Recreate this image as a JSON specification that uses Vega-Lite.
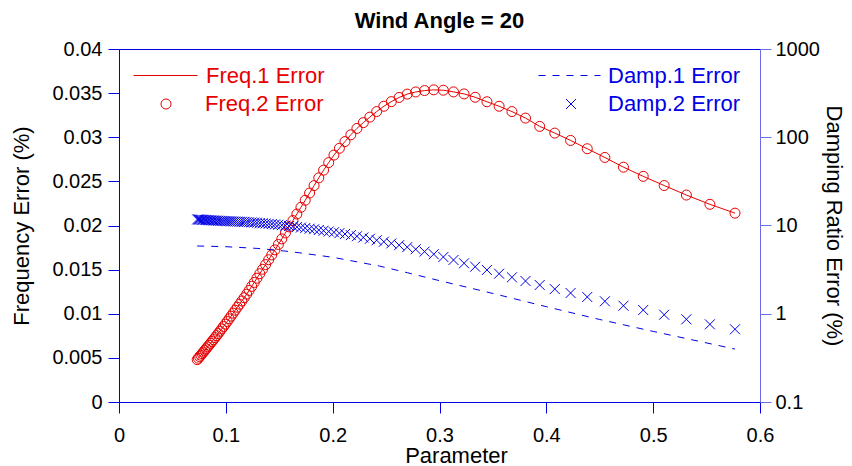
{
  "$schema": "https://vega.github.io/schema/vega-lite/v6.json",
  "autosize": {"type": "none"},
  "width": 641,
  "height": 353,
  "padding": {"left": 119, "top": 49, "right": 92, "bottom": 64},
  "background": "white",
  "config": {
    "font": "Liberation Sans",
    "view": {"stroke": "#0000e6", "strokeWidth": 1},
    "axis": {"domainColor": "#0000e6", "tickColor": "#0000e6", "labelColor": "black", "titleColor": "black", "grid": false, "labelFont": "Liberation Sans", "titleFont": "Liberation Sans", "labelFontSize": 20, "titleFontSize": 22, "titleFontWeight": "normal", "tickSize": 11, "domainWidth": 1, "tickWidth": 1, "labelFlush": false},
    "legend": {"padding": 0, "labelFont": "Liberation Sans", "labelFontSize": 22, "title": null}
  },
  "title": {"text": "Wind Angle = 20", "fontSize": 22, "fontWeight": "bold", "font": "Liberation Sans", "color": "black", "offset": 6},
  "datasets": {
    "main": [
      {"u":0.5766,"freq":0.0214,"damp2":0.667},
      {"u":0.5531,"freq":0.0224,"damp2":0.759},
      {"u":0.5311,"freq":0.02345,"damp2":0.865},
      {"u":0.5103,"freq":0.02453,"damp2":0.975},
      {"u":0.4907,"freq":0.02557,"damp2":1.102},
      {"u":0.4722,"freq":0.02661,"damp2":1.233},
      {"u":0.4548,"freq":0.02771,"damp2":1.384},
      {"u":0.4383,"freq":0.0287,"damp2":1.549},
      {"u":0.4227,"freq":0.02964,"damp2":1.718},
      {"u":0.4079,"freq":0.03047,"damp2":1.905},
      {"u":0.3938,"freq":0.03123,"damp2":2.118},
      {"u":0.3805,"freq":0.03217,"damp2":2.35},
      {"u":0.3678,"freq":0.03291,"damp2":2.588},
      {"u":0.3558,"freq":0.03351,"damp2":2.844},
      {"u":0.3444,"freq":0.03402,"damp2":3.133},
      {"u":0.3334,"freq":0.03453,"damp2":3.412},
      {"u":0.323,"freq":0.03491,"damp2":3.733},
      {"u":0.3131,"freq":0.03514,"damp2":4.064},
      {"u":0.3036,"freq":0.03533,"damp2":4.396},
      {"u":0.2946,"freq":0.03537,"damp2":4.732},
      {"u":0.286,"freq":0.03529,"damp2":5.058},
      {"u":0.2777,"freq":0.03513,"damp2":5.383},
      {"u":0.2698,"freq":0.03489,"damp2":5.689},
      {"u":0.2622,"freq":0.03451,"damp2":5.984},
      {"u":0.2549,"freq":0.03404,"damp2":6.266},
      {"u":0.2479,"freq":0.03351,"damp2":6.546},
      {"u":0.2412,"freq":0.03291,"damp2":6.808},
      {"u":0.2348,"freq":0.03228,"damp2":7.063},
      {"u":0.2287,"freq":0.03166,"damp2":7.312},
      {"u":0.2227,"freq":0.031,"damp2":7.551},
      {"u":0.217,"freq":0.03028,"damp2":7.781},
      {"u":0.2115,"freq":0.02951,"damp2":7.998},
      {"u":0.2063,"freq":0.02875,"damp2":8.185},
      {"u":0.2012,"freq":0.02798,"damp2":8.375},
      {"u":0.1963,"freq":0.02713,"damp2":8.551},
      {"u":0.1915,"freq":0.02627,"damp2":8.73},
      {"u":0.187,"freq":0.0254,"damp2":8.892},
      {"u":0.1826,"freq":0.02452,"damp2":9.057},
      {"u":0.1784,"freq":0.02368,"damp2":9.205},
      {"u":0.1743,"freq":0.02286,"damp2":9.354},
      {"u":0.1703,"freq":0.02206,"damp2":9.484},
      {"u":0.1665,"freq":0.0213,"damp2":9.616},
      {"u":0.1628,"freq":0.02056,"damp2":9.75},
      {"u":0.1592,"freq":0.01984,"damp2":9.863},
      {"u":0.1558,"freq":0.01916,"damp2":9.977},
      {"u":0.1524,"freq":0.01848,"damp2":10.09},
      {"u":0.1492,"freq":0.01785,"damp2":10.19},
      {"u":0.146,"freq":0.01724,"damp2":10.28},
      {"u":0.143,"freq":0.01667,"damp2":10.38},
      {"u":0.1401,"freq":0.01612,"damp2":10.45},
      {"u":0.1372,"freq":0.01557,"damp2":10.52},
      {"u":0.1344,"freq":0.01504,"damp2":10.59},
      {"u":0.1318,"freq":0.01454,"damp2":10.67},
      {"u":0.1291,"freq":0.01403,"damp2":10.74},
      {"u":0.1266,"freq":0.01355,"damp2":10.79},
      {"u":0.1242,"freq":0.0131,"damp2":10.84},
      {"u":0.1218,"freq":0.01264,"damp2":10.89},
      {"u":0.1195,"freq":0.01222,"damp2":10.94},
      {"u":0.1172,"freq":0.01182,"damp2":10.99},
      {"u":0.115,"freq":0.01145,"damp2":11.02},
      {"u":0.1129,"freq":0.01109,"damp2":11.04},
      {"u":0.1108,"freq":0.01074,"damp2":11.07},
      {"u":0.1088,"freq":0.0104,"damp2":11.09},
      {"u":0.1069,"freq":0.01007,"damp2":11.12},
      {"u":0.1049,"freq":0.00973,"damp2":11.14},
      {"u":0.1031,"freq":0.00943,"damp2":11.17},
      {"u":0.1013,"freq":0.00912,"damp2":11.19},
      {"u":0.0995,"freq":0.00882,"damp2":11.22},
      {"u":0.0978,"freq":0.00855,"damp2":11.25},
      {"u":0.0961,"freq":0.00828,"damp2":11.27},
      {"u":0.0945,"freq":0.00802,"damp2":11.3},
      {"u":0.0929,"freq":0.00776,"damp2":11.32},
      {"u":0.0914,"freq":0.00752,"damp2":11.35},
      {"u":0.0899,"freq":0.00729,"damp2":11.38},
      {"u":0.0884,"freq":0.00706,"damp2":11.4},
      {"u":0.087,"freq":0.00685,"damp2":11.43},
      {"u":0.0856,"freq":0.00664,"damp2":11.46},
      {"u":0.0842,"freq":0.00643,"damp2":11.48},
      {"u":0.0829,"freq":0.00624,"damp2":11.51},
      {"u":0.0816,"freq":0.00604,"damp2":11.53},
      {"u":0.0803,"freq":0.00585,"damp2":11.56},
      {"u":0.079,"freq":0.00565,"damp2":11.59},
      {"u":0.0778,"freq":0.00548,"damp2":11.61},
      {"u":0.0766,"freq":0.0053,"damp2":11.64},
      {"u":0.0755,"freq":0.00514,"damp2":11.67},
      {"u":0.0743,"freq":0.00496,"damp2":11.69},
      {"u":0.0732,"freq":0.0048,"damp2":11.72}
    ],
    "damp1": [
      {"u":0.0732,"damp1":5.861},
      {"u":0.1,"damp1":5.754},
      {"u":0.13,"damp1":5.495},
      {"u":0.16,"damp1":5.07},
      {"u":0.2,"damp1":4.365},
      {"u":0.244,"damp1":3.467},
      {"u":0.27,"damp1":2.917},
      {"u":0.3,"damp1":2.371},
      {"u":0.35,"damp1":1.698},
      {"u":0.4,"damp1":1.202},
      {"u":0.45,"damp1":0.861},
      {"u":0.5,"damp1":0.631},
      {"u":0.5766,"damp1":0.398}
    ]
  },
  "resolve": {"scale": {"y": "independent", "color": "independent"}},
  "layer": [
    {
      "resolve": {"scale": {"color": "independent"}},
      "layer": [
        {
          "data": {"name": "main"},
          "mark": {"type": "line", "strokeWidth": 1, "color": "#e60000"},
          "encoding": {
            "x": {"field": "u", "type": "quantitative", "scale": {"domain": [0, 0.6], "nice": false}, "axis": {"values": [0, 0.1, 0.2, 0.3, 0.4, 0.5, 0.6], "format": "~g", "title": "Parameter", "labelPadding": 12, "titlePadding": 0, "titleX": 337, "titleAlign": "center", "titleAnchor": null}},
            "y": {"field": "freq", "type": "quantitative", "scale": {"domain": [0, 0.04], "nice": false}, "axis": {"orient": "left", "values": [0, 0.005, 0.01, 0.015, 0.02, 0.025, 0.03, 0.035, 0.04], "format": "~g", "title": "Frequency Error (%)", "labelPadding": 6, "titlePadding": 18}}
          }
        },
        {
          "data": {"name": "main"},
          "mark": {"type": "point", "shape": "stroke", "filled": false, "size": 4, "strokeWidth": 1, "opacity": 0},
          "encoding": {
            "x": {"field": "u", "type": "quantitative"},
            "y": {"field": "freq", "type": "quantitative"},
            "color": {"datum": "Freq.1 Error", "scale": {"range": ["#e60000"]}, "legend": {"orient": "none", "legendX": 14, "legendY": -6, "symbolType": "stroke", "symbolSize": 4096, "symbolStrokeWidth": 1, "symbolStrokeColor": "#e60000", "symbolFillColor": "transparent", "symbolOpacity": 1, "labelColor": "#e60000", "labelOffset": 8}}
          }
        },
        {
          "data": {"name": "main"},
          "mark": {"type": "point", "shape": "circle", "filled": false, "size": 100, "strokeWidth": 1, "opacity": 1},
          "encoding": {
            "x": {"field": "u", "type": "quantitative"},
            "y": {"field": "freq", "type": "quantitative"},
            "color": {"datum": "Freq.2 Error", "scale": {"range": ["#e60000"]}, "legend": {"orient": "none", "legendX": 36, "legendY": 44, "symbolType": "circle", "symbolSize": 100, "symbolStrokeWidth": 1, "symbolStrokeColor": "#e60000", "symbolFillColor": "transparent", "symbolOpacity": 1, "labelColor": "#e60000", "labelOffset": 28}}
          }
        }
      ]
    },
    {
      "resolve": {"scale": {"color": "independent"}},
      "layer": [
        {
          "data": {"name": "damp1"},
          "mark": {"type": "line", "strokeWidth": 1, "color": "#0000e6", "strokeDash": [7, 7]},
          "encoding": {
            "x": {"field": "u", "type": "quantitative"},
            "y": {"field": "damp1", "type": "quantitative", "scale": {"type": "log", "domain": [0.1, 1000], "nice": false}, "axis": {"orient": "right", "values": [0.1, 1, 10, 100, 1000], "format": "~g", "title": "Damping Ratio Error (%)", "labelPadding": 4, "titlePadding": 2, "domainColor": "#6b6bf0", "tickColor": "#6b6bf0"}}
          }
        },
        {
          "data": {"name": "damp1"},
          "mark": {"type": "point", "shape": "stroke", "filled": false, "size": 4, "strokeWidth": 1, "opacity": 0},
          "encoding": {
            "x": {"field": "u", "type": "quantitative"},
            "y": {"field": "damp1", "type": "quantitative"},
            "color": {"datum": "Damp.1 Error", "scale": {"range": ["#0000e6"]}, "legend": {"orient": "none", "legendX": 419, "legendY": -5, "symbolType": "stroke", "symbolSize": 3844, "symbolStrokeWidth": 1, "symbolStrokeColor": "#0000e6", "symbolFillColor": "transparent", "symbolOpacity": 1, "symbolDash": [7, 7], "labelColor": "#0000e6", "labelOffset": 7}}
          }
        },
        {
          "data": {"name": "main"},
          "mark": {"type": "point", "shape": "M-1,-1L1,1M-1,1L1,-1", "filled": false, "size": 100, "strokeWidth": 1, "opacity": 1},
          "encoding": {
            "x": {"field": "u", "type": "quantitative"},
            "y": {"field": "damp2", "type": "quantitative"},
            "color": {"datum": "Damp.2 Error", "scale": {"range": ["#0000e6"]}, "legend": {"orient": "none", "legendX": 441, "legendY": 44, "symbolType": "M-1,-1L1,1M-1,1L1,-1", "symbolSize": 100, "symbolStrokeWidth": 1, "symbolStrokeColor": "#0000e6", "symbolFillColor": "transparent", "symbolOpacity": 1, "labelColor": "#0000e6", "labelOffset": 26}}
          }
        }
      ]
    }
  ]
}
